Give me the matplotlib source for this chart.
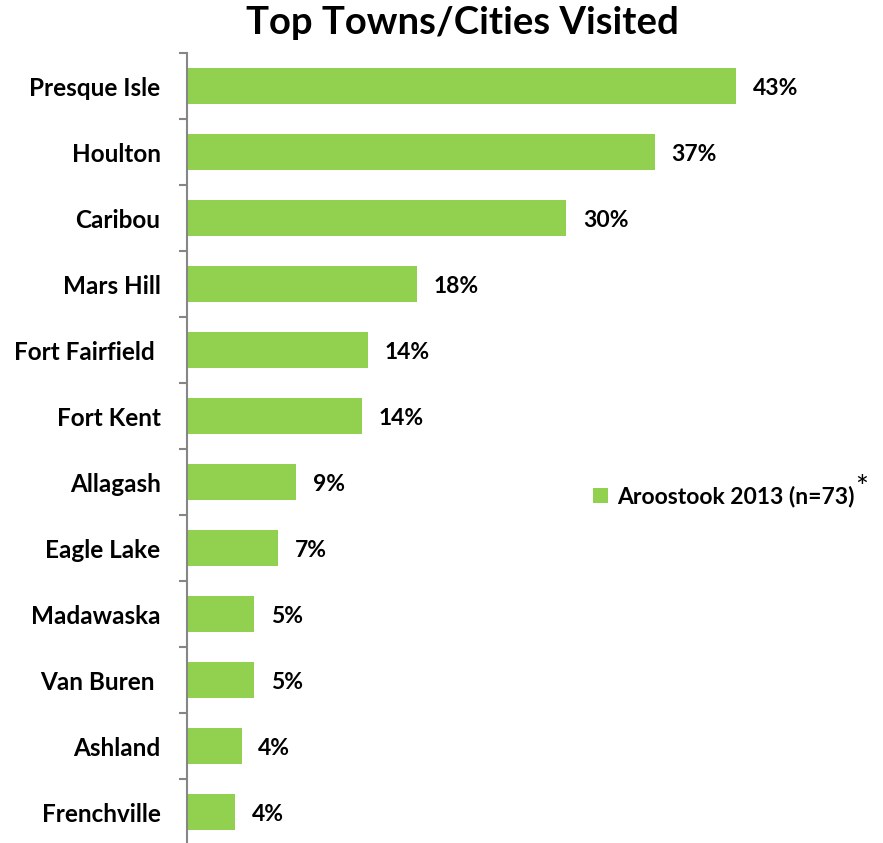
import matplotlib
matplotlib.use("Agg")
import matplotlib.pyplot as plt
import numpy as np

plt.rcParams['font.family'] = ['Lato', 'DejaVu Sans']
plt.rcParams['font.weight'] = 'bold'

towns = ["Presque Isle", "Houlton", "Caribou", "Mars Hill", "Fort Fairfield ",
         "Fort Kent", "Allagash", "Eagle Lake", "Madawaska", "Van Buren ",
         "Ashland", "Frenchville"]
values = [43.3, 36.9, 29.9, 18.1, 14.3, 13.8, 8.6, 7.2, 5.3, 5.3, 4.3, 3.8]
series_name = "Aroostook 2013 (n=73)"
title = "Top Towns/Cities Visited"

W, H = 883, 843
fig = plt.figure(figsize=(W / 100, H / 100), dpi=100)
left, right, top, bottom = 187, 827, 53, 845
ax = fig.add_axes([left / W, 1 - bottom / H, (right - left) / W, (bottom - top) / H])

green = "#92D050"
y = np.arange(len(towns))
bars = ax.barh(y, values, height=0.56, color=green, label=series_name)
ax.set_xlim(0, (right - left) / 12.68)
ax.set_ylim(len(towns) - 0.5, -0.5)

for s in ["top", "right", "bottom"]:
    ax.spines[s].set_visible(False)
ax.spines["left"].set_color("#868686")
ax.spines["left"].set_linewidth(1.5)
ax.set_xticks([])
ax.set_yticks(y)
ax.set_yticklabels(towns, fontsize=17.5, fontweight="bold")
ax.tick_params(axis="y", which="major", length=0, pad=19)
ax.set_yticks(np.arange(-0.5, len(towns), 1.0), minor=True)
ax.tick_params(axis="y", which="minor", length=6, width=1.5, color="#868686")

for yi, v in zip(y, values):
    ax.annotate(f"{v:.0f}%", (v, yi), xytext=(12, -2), textcoords="offset points",
                ha="left", va="center", fontsize=16.5, fontweight="bold")

fig.text(462 / W, 1 - 23 / H, title, ha="center", va="center",
         fontsize=27.5, fontweight="bold")

leg = ax.legend(loc="center left", bbox_to_anchor=((593 - left) / (right - left), 1 - (497 - top) / (bottom - top)),
                frameon=False, fontsize=16.5, handlelength=0.65, handleheight=0.65,
                handletextpad=0.4, borderaxespad=0, borderpad=0)
fig.canvas.draw()
txt = leg.get_texts()[0]
bb = txt.get_window_extent()
fig.text(bb.x1 / W + 1 / W, bb.y1 / H - 2 / H, "*", ha="left", va="center",
         fontsize=22, fontweight="normal")

fig.savefig("out.png", dpi=100)
